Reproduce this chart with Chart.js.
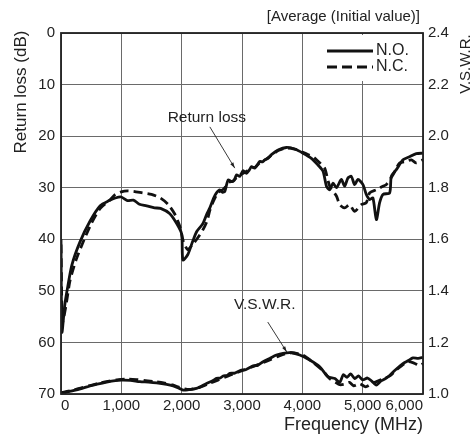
<!DOCTYPE html>
<html>
<head>
<meta charset="utf-8">
<script src="https://cdn.jsdelivr.net/npm/chart.js@4/dist/chart.umd.min.js"></script>
<style>
  html, body { margin: 0; padding: 0; background: #fff; }
  #wrap { position: relative; width: 474px; height: 437px; }
</style>
</head>
<body>
<div id="wrap"><canvas id="chart" width="474" height="437"></canvas></div>
<script>
// --- data ---
// return loss (dB), N.O. = solid, N.C. = dashed
const rlFreqNO = [0, 15, 60, 100, 180, 315, 480, 650, 800, 900, 1000, 1100, 1200, 1300, 1420, 1550, 1650, 1800, 1920, 2000, 2020, 2100, 2180, 2250, 2350, 2420, 2467, 2530, 2577, 2632, 2680, 2715, 2770, 2826, 2870, 2909, 2964, 3018, 3074, 3120, 3157, 3212, 3295, 3340, 3377, 3430, 3488, 3598, 3736, 3874, 4012, 4150, 4260, 4343, 4400, 4454, 4510, 4565, 4647, 4700, 4757, 4812, 4867, 4922, 5005, 5060, 5116, 5170, 5227, 5281, 5336, 5447, 5475, 5558, 5668, 5778, 5889, 6000];
const rlNO = [40, 58, 53, 50, 45, 40.5, 36.5, 33.5, 32.5, 32, 31.8, 32.5, 32.4, 33.2, 33.5, 33.9, 34, 35, 37, 39, 44, 43, 40.5, 38.5, 37, 35, 33.9, 32, 31.0, 30.4, 30.9, 30.7, 28.5, 28.8, 28.6, 27.5, 27.8, 26.7, 27.2, 26.6, 25.9, 26.2, 24.9, 25.0, 24.6, 24.3, 23.6, 22.7, 22.2, 22.5, 23.3, 24.3, 25.6, 26.8, 29.7, 30.4, 29.1, 30, 28.4, 29.7, 28.1, 27.8, 29.4, 28.4, 29.4, 31.3, 32.3, 32, 36.2, 32.9, 31.3, 31, 27.8, 26.5, 24.6, 24, 23.4, 23.3];
const rlFreqNC = [0, 25, 80, 150, 250, 350, 500, 650, 800, 900, 1000, 1100, 1200, 1350, 1500, 1650, 1780, 1880, 1970, 2030, 2100, 2180, 2250, 2350, 2420, 2470, 2530, 2600, 2700, 2780, 2850, 2920, 3000, 3080, 3160, 3220, 3300, 3380, 3490, 3600, 3740, 3870, 4000, 4100, 4200, 4300, 4370, 4454, 4565, 4620, 4702, 4785, 4867, 4978, 5060, 5116, 5227, 5336, 5392, 5503, 5613, 5723, 5806, 5889, 6000];
const rlNC = [41, 56, 53, 48, 44, 41, 37, 34, 32.5, 31.3, 30.8, 30.6, 30.7, 31, 31.3, 32, 33.3, 35, 37.5, 40.5, 42, 41, 40, 38.2, 36.5, 34.3, 32.5, 31, 30.2, 29, 28.7, 27.9, 27.3, 26.8, 26.1, 26, 25.1, 24.6, 23.7, 22.8, 22.3, 22.5, 23.1, 23.6, 24.2, 25.3, 26.2, 29.7, 31.6, 33.3, 33.9, 33.3, 34.6, 33.3, 32.9, 31, 30.4, 29.7, 29.4, 27.5, 25.2, 24.9, 24.6, 25.2, 24.6];

// V.S.W.R.
const vsFreqNO = [0, 20, 100, 200, 350, 480, 600, 756, 900, 1000, 1150, 1308, 1450, 1584, 1750, 1860, 1960, 2030, 2100, 2246, 2412, 2521, 2577, 2640, 2687, 2750, 2798, 2880, 2991, 3060, 3184, 3260, 3350, 3460, 3571, 3680, 3819, 3957, 4122, 4288, 4425, 4540, 4619, 4680, 4740, 4800, 4870, 4930, 5000, 5080, 5150, 5227, 5300, 5380, 5447, 5550, 5667, 5760, 5833, 5920, 6000];
const vsNO = [1.005, 1.0, 1.008, 1.013, 1.022, 1.031, 1.038, 1.046, 1.052, 1.054, 1.053, 1.048, 1.046, 1.043, 1.037, 1.031, 1.022, 1.015, 1.016, 1.022, 1.041, 1.052, 1.061, 1.062, 1.070, 1.072, 1.080, 1.081, 1.093, 1.094, 1.109, 1.111, 1.125, 1.138, 1.151, 1.158, 1.160, 1.151, 1.132, 1.106, 1.067, 1.06, 1.045, 1.075, 1.065, 1.078, 1.06, 1.07, 1.055, 1.062, 1.05, 1.035, 1.05, 1.06, 1.072, 1.095, 1.118, 1.13, 1.14, 1.138, 1.142];
const vsFreqNC = [0, 100, 200, 350, 500, 650, 800, 950, 1100, 1250, 1400, 1550, 1700, 1850, 1950, 2050, 2150, 2300, 2450, 2600, 2800, 3000, 3200, 3400, 3600, 3800, 4000, 4150, 4350, 4450, 4550, 4620, 4700, 4780, 4850, 4950, 5050, 5150, 5250, 5350, 5450, 5550, 5650, 5750, 5850, 5950, 6000];
const vsNC = [1.005, 1.01, 1.015, 1.025, 1.034, 1.043, 1.05, 1.056, 1.058, 1.056, 1.052, 1.048, 1.043, 1.035, 1.027, 1.02, 1.018, 1.026, 1.04, 1.054, 1.073, 1.09, 1.108, 1.126, 1.146, 1.16, 1.152, 1.128, 1.088, 1.06, 1.045, 1.036, 1.038, 1.045, 1.032, 1.04, 1.028, 1.04, 1.05, 1.06, 1.07, 1.092, 1.11, 1.125, 1.12, 1.11, 1.118];

const freqTicks = [0, 1000, 2000, 3000, 4000, 5000, 6000];
const rlTicks = [0, 10, 20, 30, 40, 50, 60, 70];
const vsTicks = [1.0, 1.2, 1.4, 1.6, 1.8, 2.0, 2.2, 2.4];

const seriesNames = ['N.O.', 'N.C.'];
// annotation label, text anchor and arrow tip, in data units (freq, value, axis)
const notes = [
    { text: 'Return loss', axis: 'y', label: [2417, 16.5], from: [2467, 18.2], to: [2880, 26.2] },
    { text: 'V.S.W.R.', axis: 'y1', label: [3377, 1.345], from: [3427, 1.279], to: [3742, 1.163] }
];

const FONT = "'Liberation Sans', Arial, Helvetica, sans-serif";

function pts(xs, ys) {
    return xs.map((x, i) => ({ x: x, y: ys[i] }));
}

const lineBase = { borderColor: '#111', borderWidth: 2.8, pointRadius: 0, tension: 0.25, fill: false };

// --- titles, legend and annotations drawn on top ---
const decorPlugin = {
    id: 'decor',
    afterDraw(chart) {
        const ctx = chart.ctx;
        const area = chart.chartArea;
        ctx.save();
        ctx.fillStyle = '#222';

        // heading
        ctx.font = '15px ' + FONT;
        ctx.textAlign = 'right';
        ctx.textBaseline = 'middle';
        ctx.fillText('[Average (Initial value)]', 420, 17);

        // left axis title
        ctx.save();
        ctx.translate(21, 92);
        ctx.rotate(-Math.PI / 2);
        ctx.font = '17px ' + FONT;
        ctx.textAlign = 'center';
        ctx.fillText('Return loss (dB)', 0, 0);
        ctx.restore();

        // right axis title
        ctx.save();
        ctx.translate(466, 64);
        ctx.rotate(-Math.PI / 2);
        ctx.font = '15px ' + FONT;
        ctx.textAlign = 'center';
        ctx.fillText('V.S.W.R.', 0, 0);
        ctx.restore();

        // x axis title
        ctx.font = '18px ' + FONT;
        ctx.textAlign = 'right';
        ctx.fillText('Frequency (MHz)', area.right, 425);

        // legend
        ctx.fillStyle = '#fff';
        ctx.fillRect(312, area.top + 2, area.right - 314, 46);
        ctx.strokeStyle = '#111';
        ctx.lineWidth = 3;
        [51, 67].forEach((y, i) => {
            ctx.setLineDash(i === 0 ? [] : [10, 5]);
            ctx.beginPath();
            ctx.moveTo(327, y);
            ctx.lineTo(373, y);
            ctx.stroke();
            ctx.fillStyle = '#222';
            ctx.setLineDash([]);
            ctx.font = '16px ' + FONT;
            ctx.textAlign = 'left';
            ctx.fillText(seriesNames[i], 376, y);
        });

        // annotations with arrows
        const xs = chart.scales.x;
        notes.forEach(n => {
            const ys = chart.scales[n.axis];
            const lx = xs.getPixelForValue(n.label[0]), ly = ys.getPixelForValue(n.label[1]);
            const fx = xs.getPixelForValue(n.from[0]), fy = ys.getPixelForValue(n.from[1]);
            const tx = xs.getPixelForValue(n.to[0]), ty = ys.getPixelForValue(n.to[1]);
            ctx.fillStyle = '#222';
            ctx.font = '15.5px ' + FONT;
            ctx.textAlign = 'center';
            ctx.fillText(n.text, lx, ly);
            ctx.strokeStyle = '#222';
            ctx.lineWidth = 0.9;
            ctx.beginPath();
            ctx.moveTo(fx, fy);
            ctx.lineTo(tx, ty);
            ctx.stroke();
            const ang = Math.atan2(ty - fy, tx - fx);
            ctx.beginPath();
            ctx.moveTo(tx, ty);
            ctx.lineTo(tx - 6 * Math.cos(ang - 0.3), ty - 6 * Math.sin(ang - 0.3));
            ctx.lineTo(tx - 6 * Math.cos(ang + 0.3), ty - 6 * Math.sin(ang + 0.3));
            ctx.closePath();
            ctx.fill();
        });

        // frame
        ctx.strokeStyle = '#222';
        ctx.lineWidth = 1.8;
        ctx.strokeRect(area.left, area.top, area.right - area.left, area.bottom - area.top);
        ctx.restore();
    }
};

new Chart(document.getElementById('chart'), {
    type: 'line',
    data: {
        datasets: [
            Object.assign({ label: 'RL N.O.', data: pts(rlFreqNO, rlNO), yAxisID: 'y' }, lineBase),
            Object.assign({ label: 'RL N.C.', data: pts(rlFreqNC, rlNC), yAxisID: 'y', borderDash: [9, 5] }, lineBase),
            Object.assign({ label: 'VSWR N.O.', data: pts(vsFreqNO, vsNO), yAxisID: 'y1' }, lineBase),
            Object.assign({ label: 'VSWR N.C.', data: pts(vsFreqNC, vsNC), yAxisID: 'y1', borderDash: [9, 5] }, lineBase)
        ]
    },
    options: {
        responsive: false,
        animation: false,
        layout: { padding: { top: 33, left: 0, right: 0, bottom: 0 } },
        plugins: { legend: { display: false }, tooltip: { enabled: false } },
        scales: {
            x: {
                type: 'linear', min: 0, max: 6000,
                afterBuildTicks: s => { s.ticks = freqTicks.map(v => ({ value: v })); },
                afterFit: s => { s.height = 43; },
                grid: { color: '#6a6a6a', lineWidth: 1, drawTicks: false },
                border: { display: false },
                ticks: {
                    padding: 3, align: 'inner', color: '#222', font: { family: FONT, size: 15 },
                    callback: v => v.toLocaleString('en-US')
                }
            },
            y: {
                type: 'linear', position: 'left', reverse: true, min: 0, max: 70,
                afterBuildTicks: s => { s.ticks = rlTicks.map(v => ({ value: v })); },
                afterFit: s => { s.width = 61; },
                grid: { color: '#6a6a6a', lineWidth: 1, drawTicks: false },
                border: { display: false },
                ticks: { padding: 6, color: '#222', font: { family: FONT, size: 15 } }
            },
            y1: {
                type: 'linear', position: 'right', min: 1.0, max: 2.4,
                afterBuildTicks: s => { s.ticks = vsTicks.map(v => ({ value: v })); },
                afterFit: s => { s.width = 51; },
                grid: { drawOnChartArea: false, drawTicks: false },
                border: { display: false },
                ticks: { padding: 5, color: '#222', font: { family: FONT, size: 15 }, callback: v => v.toFixed(1) }
            }
        }
    },
    plugins: [decorPlugin]
});
</script>
</body>
</html>
